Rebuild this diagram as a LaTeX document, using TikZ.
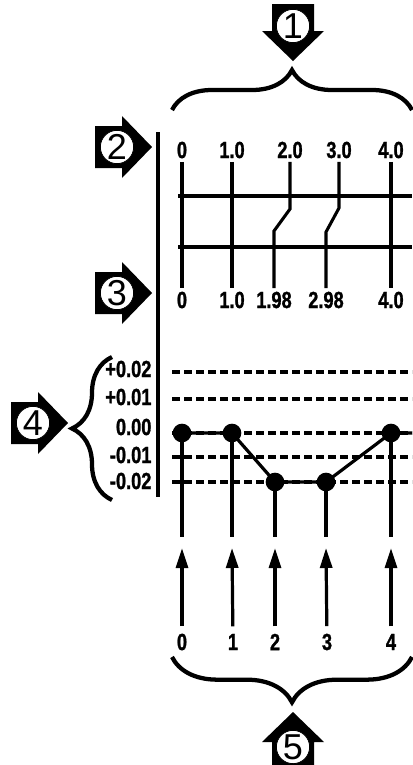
\documentclass[tikz,border=0pt]{standalone}
\usepackage{fontspec}
\usepackage{tikz}
\usetikzlibrary{positioning,calc}
\usetikzlibrary{arrows.meta,decorations.pathreplacing}
\newfontfamily\labelfont[FakeStretch=0.78,FakeBold=1.2]{Liberation Sans Bold}
\newfontfamily\calloutfont{Liberation Sans}
\tikzset{
  gridline/.style={draw=black,line width=2.3pt},
  tolline/.style={draw=black,line width=2.4pt,dash pattern=on 6pt off 3pt},
  gridlbl/.style={font=\labelfont\fontsize{17.5}{18}\selectfont,inner sep=2.5pt},
  pdot/.style={circle,fill=black,inner sep=0pt,minimum size=14pt},
  bracebig/.style={decorate,decoration={brace,amplitude=#1},line width=3.2pt},
  feedarrow/.style={draw=black,line width=2.4pt,shorten <=3pt,-{Triangle[length=15pt,width=9pt]}},
  calldisc/.style={circle,draw=black,fill=white,line width=0.6pt,inner sep=0pt,minimum size=25pt,
    font=\calloutfont\fontsize{27}{27}\selectfont},
  callout/.pic={
    \fill[black] (-57,-21) -- (-30,-21) -- (-30,-31) -- (0,0) -- (-30,31) -- (-30,21) -- (-57,21) -- cycle;
    \node[calldisc] (-num) at (-35,0) {\tikzpictext};
  },
}

\begin{document}
\begin{tikzpicture}[x=0.75pt,y=-0.75pt]
\useasboundingbox (0,0) rectangle (412,765);
% callouts
\pic[rotate=-90,pic text=1] (c1) at (293,61) {callout};
\pic[pic text=2] (c2) at (152,147) {callout};
\pic[pic text=3] (c3) at (152,293) {callout};
\pic[pic text=4] (c4) at (68,423) {callout};
\pic[rotate=90,pic text=5] (c5) at (293,712) {callout};
% braces
\coordinate (bt1) at (172,110);
\coordinate (bt2) at (412,110);
\draw[bracebig=30pt] (bt1) -- (bt2);
\coordinate (bb1) at (412,657);
\coordinate (bb2) at (172,657);
\draw[bracebig=34pt] (bb1) -- (bb2);
\coordinate (bl1) at (112,500);
\coordinate (bl2) at (112,357);
\draw[bracebig=30pt] (bl1) -- (bl2);
% separator
\coordinate (s1) at (158,132);
\coordinate (s2) at (158,497);
\draw[line width=2.3pt] (s1) -- (s2);
% top scale and shifted scale
\foreach \i/\x/\t in {0/182/0,1/232/1.0,2/290/2.0,3/339/3.0,4/391/4.0}
  \node[gridlbl] (a\i) at (\x,150) {\t};
\foreach \i/\x/\t in {0/182/0,1/232/1.0,2/274/1.98,3/326/2.98,4/391/4.0}
  \node[gridlbl] (b\i) at (\x,300) {\t};
\coordinate (r1w) at (178,196);
\coordinate (r1e) at (412,196);
\coordinate (r2w) at (178,247);
\coordinate (r2e) at (412,247);
\draw[gridline] (r1w) -- (r1e);
\draw[gridline] (r2w) -- (r2e);
\foreach \i in {0,1,4}
  \draw[gridline] (a\i) -- (b\i);
\draw[gridline] (a2) -- (290,209) -- (274,231) -- (b2);
\draw[gridline] (a3) -- (339,208) -- (326,232) -- (b3);
% tolerance band
\foreach \i/\y/\ly/\t in {0/372/369/+0.02,1/399/397/+0.01,2/433/427/0.00,3/457/455/-0.01,4/482/481/-0.02}{
  \node[gridlbl,anchor=east] (v\i) at (155,\ly) {\t};
  \coordinate (lw\i) at (172,\y);
  \coordinate (le\i) at (412,\y);
  \draw[tolline] (lw\i) -- (le\i);
}
\foreach \i/\x/\y in {0/182/433,1/232/433,2/275/482,3/326/482,4/391/433}{
  \coordinate (p\i) at (\x,\y);
  \coordinate (e\i) at (\x,537);
  \coordinate (t\i) at (\x,548);
  \draw[gridline] (p\i) -- (e\i);
}
\draw[line width=2.4pt] (p0) -- (p1) -- (p2) -- (p3) -- (p4) -- (le2);
\foreach \i in {0,...,4}
  \node[pdot] (d\i) at (p\i) {};
% feed positions
\foreach \i/\x in {0/182,1/233,2/275,3/327,4/391}{
  \node[gridlbl] (n\i) at (\x,642) {\i};
  \draw[feedarrow] (n\i) -- (t\i);
}
\end{tikzpicture}
\end{document}
